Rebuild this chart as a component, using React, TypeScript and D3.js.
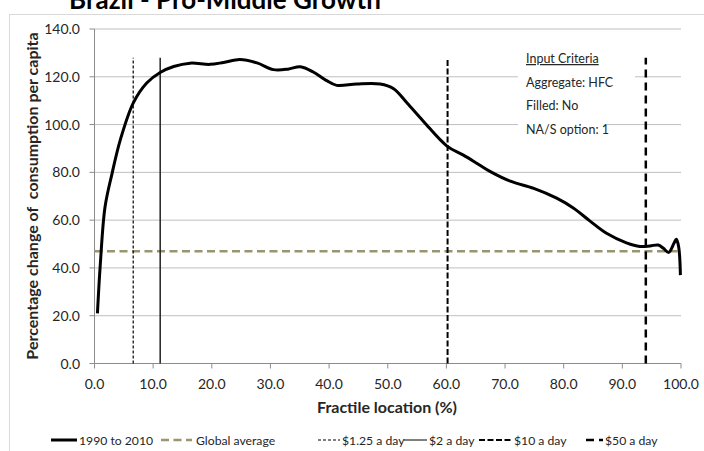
import * as d3 from "d3";

// Brazil, pro-middle growth: % change of consumption per capita, 1990 to 2010
const fractile = [
  0.5, 1.0, 1.8, 3.0, 4.4, 6.6, 8.9, 11.2, 13.5, 16.3, 19.7, 22.0, 24.8, 27.7,
  30.5, 33.0, 35.1, 37.3, 39.5, 41.3, 44.7, 48.7, 51.0, 53.3, 56.1, 60.1, 62.9,
  65.5, 67.5, 70.9, 74.9, 78.8, 81.7, 84.5, 87.3, 90.7, 93.0, 94.7, 96.1, 97.0,
  97.9, 98.8, 99.2, 99.6, 99.9,
];
const growth = [
  21.0, 41.9, 65.6, 79.6, 93.6, 109.0, 117.4, 121.8, 124.3, 125.7, 125.2, 126.0,
  127.2, 125.8, 123.0, 123.2, 124.2, 122.0, 118.5, 116.4, 117.0, 117.0, 115.0,
  109.0, 101.3, 91.0, 87.2, 83.3, 80.3, 76.3, 73.3, 69.2, 65.0, 59.6, 54.5, 50.5,
  49.0, 49.2, 49.6, 48.2, 46.5, 50.3, 52.0, 48.9, 37.0,
];
const globalAverage = 47;

const povertyLines = [6.6, 11.2, 60.2, 94.0];
const povertyLabels = ["$1.25 a day", "$2 a day", "$10 a day", "$50 a day"];
const povertyTop = 128;

const xTicks = d3.range(0, 101, 10);
const yTicks = d3.range(0, 141, 20);

const criteria = ["Input Criteria", "Aggregate: HFC", "Filled: No", "NA/S option: 1"];

const FONT = "Lato, 'Open Sans', sans-serif";
const TEXT = "#262626";

// dash styles for the four poverty lines
const povertyStyle = [
  { width: 1.2, dash: "3 2", legend: [318, 340] },
  { width: 1.5, dash: "", legend: [404, 427] },
  { width: 2, dash: "6 2.5", legend: [479, 512] },
  { width: 2.5, dash: "8 5", legend: [586, 603] },
];

export default function App() {
  const x = d3.scaleLinear().domain([0, 100]).range([94.5, 681]);
  const y = d3.scaleLinear().domain([0, 140]).range([363.5, 29]);

  const pts = fractile.map((f, i) => [f, growth[i]] as [number, number]);
  const line = d3
    .line<[number, number]>()
    .x((d) => x(d[0]))
    .y((d) => y(d[1]))
    .curve(d3.curveCatmullRom.alpha(0.5));

  return (
    <svg
      width={704}
      height={451}
      style={{ position: "absolute", left: 0, top: 0, background: "#fff" }}
      fontFamily={FONT}
    >
      <rect x={0} y={0} width={704} height={451} fill="#fff" />
      {/* chart border, runs off the page right and bottom */}
      <rect x={9.5} y={14.5} width={720} height={460} fill="none" stroke="#d9d9d9" />

      <text x={225} y={9} textAnchor="middle" fontSize={26} fontWeight="bold" fill="#000">
        Brazil - Pro-Middle Growth
      </text>

      {/* gridlines */}
      {yTicks.filter((t) => t > 0).map((t) => (
        <line key={t} x1={x(0)} x2={x(100)} y1={y(t)} y2={y(t)} stroke="#bfbfbf" />
      ))}

      {/* axes */}
      <line x1={x(0)} x2={x(0)} y1={y(140)} y2={y(0)} stroke="#8c8c8c" />
      <line x1={x(0)} x2={x(100)} y1={y(0)} y2={y(0)} stroke="#8c8c8c" />
      {yTicks.map((t) => (
        <g key={t}>
          <line x1={x(0) - 5} x2={x(0)} y1={y(t)} y2={y(t)} stroke="#8c8c8c" />
          <text x={80} y={y(t) + 5} textAnchor="end" fontSize={14} fill={TEXT}>
            {t.toFixed(1)}
          </text>
        </g>
      ))}
      {xTicks.map((t) => (
        <g key={t}>
          <line x1={x(t)} x2={x(t)} y1={y(0)} y2={y(0) + 5} stroke="#8c8c8c" />
          <text x={x(t)} y={389} textAnchor="middle" fontSize={14} fill={TEXT}>
            {t.toFixed(1)}
          </text>
        </g>
      ))}

      <text x={387} y={413} textAnchor="middle" fontSize={16} fontWeight="bold" fill={TEXT}>
        Fractile location (%)
      </text>
      <text
        transform={`translate(38,196) rotate(-90)`}
        textAnchor="middle"
        fontSize={16}
        fontWeight="bold"
        fill={TEXT}
        style={{ whiteSpace: "pre" }}
      >
        {"Percentage change of  consumption per capita"}
      </text>

      {/* criteria text boxes */}
      <rect x={518} y={42} width={117} height={73} fill="#fff" />
      <rect x={518} y={115} width={89} height={25} fill="#fff" />
      {criteria.map((c, i) => (
        <text
          key={c}
          x={526}
          y={63 + i * 23.7}
          fontSize={12.5}
          fill={TEXT}
          textDecoration={i === 0 ? "underline" : undefined}
        >
          {c}
        </text>
      ))}

      {/* global average */}
      <line
        x1={x(0)}
        x2={x(100)}
        y1={y(globalAverage)}
        y2={y(globalAverage)}
        stroke="#9b9470"
        strokeWidth={2.5}
        strokeDasharray="8 4.5"
      />

      {/* poverty lines */}
      {povertyLines.map((p, i) => (
        <line
          key={p}
          x1={x(p)}
          x2={x(p)}
          y1={y(0)}
          y2={y(povertyTop)}
          stroke={i === 1 ? "#222" : "#000"}
          strokeWidth={povertyStyle[i].width}
          strokeDasharray={povertyStyle[i].dash || undefined}
        />
      ))}

      <path d={line(pts) ?? ""} fill="none" stroke="#000" strokeWidth={3} strokeLinejoin="round" />

      {/* legend */}
      <g fontSize={12.2} fill={TEXT}>
        <line x1={51} x2={77} y1={440} y2={440} stroke="#000" strokeWidth={3} />
        <text x={79} y={445}>1990 to 2010</text>
        <line x1={161} x2={192} y1={440} y2={440} stroke="#9b9470" strokeWidth={2.5} strokeDasharray="8 4.5" />
        <text x={196} y={445}>Global average</text>
        {povertyLabels.map((label, i) => {
          const [a, b] = povertyStyle[i].legend;
          return (
            <g key={label}>
              <line
                x1={a}
                x2={b}
                y1={440}
                y2={440}
                stroke="#000"
                strokeWidth={i === 1 ? 1 : povertyStyle[i].width}
                strokeDasharray={povertyStyle[i].dash || undefined}
              />
              <text x={b + 2} y={445}>{label}</text>
            </g>
          );
        })}
      </g>
    </svg>
  );
}
